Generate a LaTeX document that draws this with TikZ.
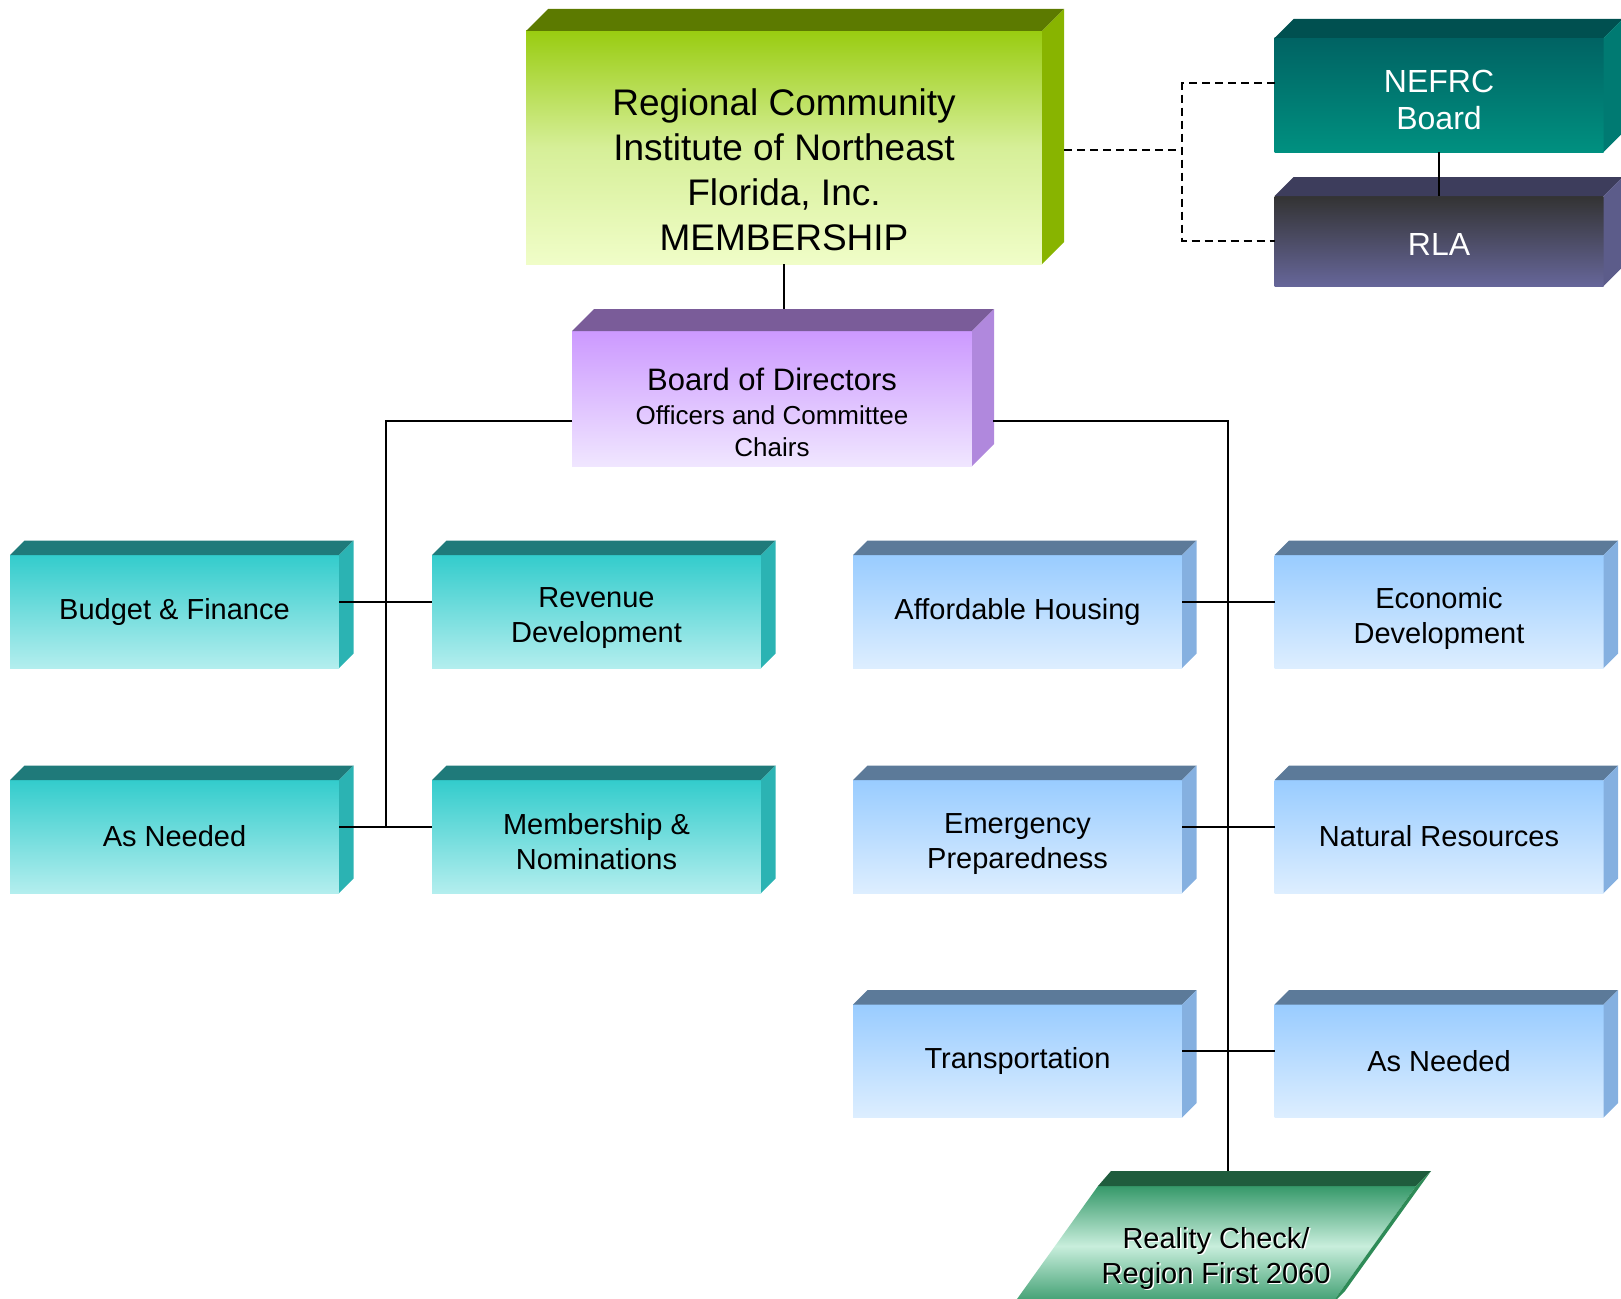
\documentclass[tikz,border=0pt]{standalone}
\usepackage{fontspec}
\setmainfont{Liberation Sans}
\usetikzlibrary{positioning}

\definecolor{limeA}{HTML}{99CC11}
\definecolor{limeB}{HTML}{D6EF98}
\definecolor{limeC}{HTML}{F0FDC8}
\definecolor{limetop}{HTML}{5C7A00}
\definecolor{limeside}{HTML}{88B400}
\definecolor{lilacA}{HTML}{CC99FF}
\definecolor{lilacB}{HTML}{F0E6FF}
\definecolor{lilactop}{HTML}{7A5C99}
\definecolor{lilacside}{HTML}{B088DD}
\definecolor{nefrcA}{HTML}{006363}
\definecolor{nefrcB}{HTML}{009080}
\definecolor{nefrctop}{HTML}{005050}
\definecolor{nefrcside}{HTML}{007A72}
\definecolor{rlaA}{HTML}{333333}
\definecolor{rlaB}{HTML}{666699}
\definecolor{rlatop}{HTML}{3D3D5C}
\definecolor{rlaside}{HTML}{5C5C8A}
\definecolor{tealA}{HTML}{33CCCC}
\definecolor{tealB}{HTML}{B3EEEE}
\definecolor{tealtop}{HTML}{1F7A7A}
\definecolor{tealside}{HTML}{2BB3B3}
\definecolor{blueA}{HTML}{99CCFF}
\definecolor{blueB}{HTML}{DDEEFF}
\definecolor{bluetop}{HTML}{5C7A99}
\definecolor{blueside}{HTML}{85B0E0}
\definecolor{rcA}{HTML}{36996A}
\definecolor{rcB}{HTML}{C8EEDC}
\definecolor{rctop}{HTML}{1F5C3D}
\definecolor{rcside}{HTML}{2E8B57}

\tikzset{
  front/.style={rectangle, inner sep=0, outer sep=0, minimum width=329, minimum height=113, align=center, font=\fontsize{29}{35}\selectfont},
  tealbox/.style={front, top color=tealA, bottom color=tealB},
  bluebox/.style={front, top color=blueA, bottom color=blueB},
  boxtext/.style 2 args={label={[align=center, font=\fontsize{29}{35}\selectfont, yshift=#1]center:{#2}}},
  link/.style={line width=2},
  dashlink/.style={line width=1.8, dash pattern=on 8 off 5},
  rctext/.style={align=center, font=\fontsize{29}{35}\selectfont}
}

\begin{document}
\begin{tikzpicture}[x=1pt,y=-1pt]
\useasboundingbox (0,0) rectangle (1621,1298);
\clip (0,0) rectangle (1621,1298);

\node[front, minimum width=516, minimum height=233, top color=limeA, bottom color=limeC, middle color=limeB,
  label={[align=center, yshift=-22, font=\fontsize{37}{45}\selectfont]center:{Regional Community\\Institute of Northeast\\Florida, Inc.\\MEMBERSHIP}}] (top) at (784,147.5) {};
\node[front, minimum width=400, minimum height=135, top color=lilacA, bottom color=lilacB,
  label={[align=center, yshift=-14, font=\fontsize{26}{32}\selectfont]center:{{\fontsize{31}{34}\selectfont Board of Directors}\\[2pt]Officers and Committee\\Chairs}}] (bod) at (772,398.5) {};
\node[front, minimum height=114, top color=nefrcA, bottom color=nefrcB,
  label={[align=center, yshift=-5, text=white, font=\fontsize{32}{37}\selectfont]center:{NEFRC\\Board}}] (nefrc) at (1439,95) {};
\node[front, minimum height=90, top color=rlaA, bottom color=rlaB,
  label={[yshift=-3, text=white, font=\fontsize{32}{37}\selectfont]center:RLA}] (rla) at (1439,241) {};

\node[tealbox] (budget) at (174.5,611.5) {Budget \& Finance};
\node[tealbox, boxtext={-7}{Revenue\\Development}] (revenue) at (596.5,611.5) {};
\node[tealbox] (needed1) at (174.5,836.5) {As Needed};
\node[tealbox, boxtext={-5.5}{Membership \&\\Nominations}] (member) at (596.5,836.5) {};

\node[bluebox] (housing) at (1017.5,611.5) {Affordable Housing};
\node[bluebox, boxtext={-6.5}{Economic\\Development}] (econ) at (1439,611.5) {};
\node[bluebox, boxtext={-7.5}{Emergency\\Preparedness}] (emerg) at (1017.5,836.5) {};
\node[bluebox] (natural) at (1439,836.5) {Natural Resources};
\node[bluebox] (transport) at (1017.5,1061) {Transportation};
\node[bluebox] (needed2) at (1439,1061) {As Needed};

\foreach \n/\d/\fc in {top/22/lime, bod/22/lilac, nefrc/19/nefrc, rla/19/rla, budget/14.5/teal, revenue/14.5/teal, needed1/14.5/teal, member/14.5/teal, housing/14.5/blue, econ/14.5/blue, emerg/14.5/blue, natural/14.5/blue, transport/14.5/blue, needed2/14.5/blue}{
  \fill[fill=\fc top] (\n.north west) -- ++(\d,-\d) -- ([shift={(\d,-\d)}]\n.north east) -- (\n.north east) -- cycle;
  \fill[fill=\fc side] (\n.north east) -- ++(\d,-\d) -- ([shift={(\d,-\d)}]\n.south east) -- (\n.south east) -- cycle;
}

\shade[top color=rcA, bottom color=rcA, middle color=rcB] (1098,1186) -- (1416,1186) -- (1330,1306) -- (1012,1306) -- cycle;
\fill[rctop] (1098,1186) -- (1111,1171) -- (1431,1171) -- (1416,1186) -- cycle;
\fill[rcside] (1416,1186) -- (1431,1171) -- (1345,1291) -- (1330,1306) -- cycle;
\node[rctext, text=white] at (1217.5,1259.5) {Reality Check/\\Region First 2060};
\node[rctext] (reality) at (1216,1258) {Reality Check/\\Region First 2060};

\coordinate (bodback) at ([yshift=22]bod.north);
\coordinate (lbus) at (385.5,826.5);
\coordinate (rcin) at (1228,1171);
\coordinate (dbus) at (1182,150);

\draw[link] (top.south) -- (top.south |- bodback);
\draw[link] ([yshift=-22.5]bod.west) -| (lbus);
\draw[link] ([xshift=21,yshift=-22.5]bod.east) -| (rcin);
\draw[link] ([yshift=10]budget.east) -- ([yshift=10]revenue.west);
\draw[link] ([yshift=10]needed1.east) -- ([yshift=10]member.west);
\draw[link] ([yshift=10]housing.east) -- ([yshift=10]econ.west);
\draw[link] ([yshift=10]emerg.east) -- ([yshift=10]natural.west);
\draw[link] ([yshift=10]transport.east) -- ([yshift=10]needed2.west);
\draw[link] (nefrc.south) -- (rla.north);
\draw[dashlink] ([yshift=12]nefrc.west) -| (dbus) |- (rla.west);
\draw[dashlink] ([xshift=22,yshift=-2.5]top.east) -- (dbus);
\end{tikzpicture}
\end{document}
